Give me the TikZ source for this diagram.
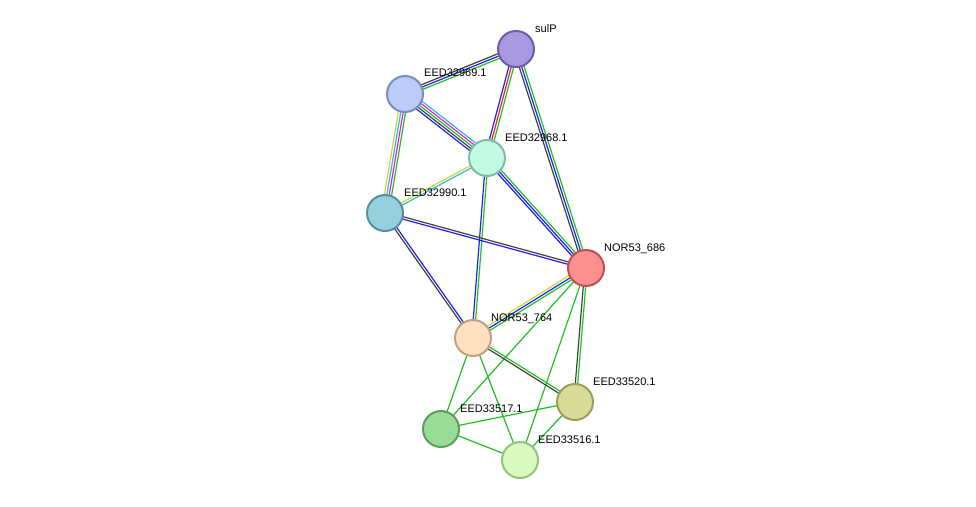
\documentclass[tikz,border=0pt]{standalone}
\usepackage{fontspec}
\setmainfont{Liberation Sans}
\usetikzlibrary{calc}

\definecolor{eblack}{HTML}{404040}
\definecolor{eblue}{HTML}{2020F0}
\definecolor{egreen}{HTML}{20C020}
\definecolor{ered}{HTML}{F02020}
\definecolor{emagenta}{HTML}{E020E0}
\definecolor{ecyan}{HTML}{30B8E0}
\definecolor{eyellow}{HTML}{C8D830}

\tikzset{
  prot/.style={circle, minimum size=36pt, inner sep=0, line width=2pt},
  lab/.style={anchor=base west, inner sep=0, font=\fontsize{11}{13}\selectfont},
  edge/.style={line width=1.2pt},
}

% #1,#2 node names, #3 list of colours
\newcommand{\multiedge}[3]{%
  \foreach \c [count=\i] in {#3} {\xdef\nedges{\i}}%
  \foreach \c [count=\i] in {#3} {%
    \pgfmathsetmacro{\off}{(\i-(\nedges+1)/2)*2.4}%
    \draw[edge, draw=\c] ($(#1)!\off pt!90:(#2)$) -- ($(#2)!\off pt!-90:(#1)$);
  }%
}

\begin{document}
\begin{tikzpicture}[x=1pt, y=-1pt]

\useasboundingbox[fill=white] (0,0) rectangle (976,506);

\coordinate (sulP) at (516,49);
\coordinate (e969) at (405,94);
\coordinate (e968) at (487,158);
\coordinate (e990) at (385,213);
\coordinate (n686) at (586,268);
\coordinate (n764) at (473,338);
\coordinate (e520) at (575,402);
\coordinate (e517) at (441,429);
\coordinate (e516) at (520,460);

\multiedge{sulP}{e969}{eblack,eblue,egreen}
\multiedge{sulP}{e968}{eblue,ered,egreen}
\multiedge{sulP}{n686}{eblack,eblue,egreen}
\multiedge{e969}{e968}{eblue,eblack,egreen,emagenta,ecyan}
\multiedge{e969}{e990}{eyellow,ecyan,emagenta,egreen}
\multiedge{e968}{e990}{eyellow,ecyan}
\multiedge{e968}{n686}{eblue,eblue,egreen}
\multiedge{e968}{n764}{eblue,egreen}
\multiedge{e990}{n686}{eblue,eblack}
\multiedge{e990}{n764}{eblack,eblue}
\multiedge{n686}{n764}{eyellow,eblue,egreen}
\multiedge{n686}{e520}{eblack,egreen}
\multiedge{n686}{e517}{egreen}
\multiedge{n686}{e516}{egreen}
\multiedge{n764}{e520}{eblack,egreen}
\multiedge{n764}{e517}{egreen}
\multiedge{n764}{e516}{egreen}
\multiedge{e517}{e520}{egreen}
\multiedge{e517}{e516}{egreen}
\multiedge{e520}{e516}{egreen}

\node[prot, fill={rgb,255:red,168;green,152;blue,224}, draw={rgb,255:red,111;green,91;blue,168}] (sulPn) at (sulP) {};
\node[prot, fill={rgb,255:red,188;green,203;blue,248}, draw={rgb,255:red,122;green,141;blue,192}] (e969n) at (e969) {};
\node[prot, fill={rgb,255:red,195;green,250;blue,228}, draw={rgb,255:red,128;green,187;blue,168}] (e968n) at (e968) {};
\node[prot, fill={rgb,255:red,150;green,208;blue,222}, draw={rgb,255:red,90;green,142;blue,156}] (e990n) at (e990) {};
\node[prot, fill={rgb,255:red,250;green,144;blue,144}, draw={rgb,255:red,192;green,80;blue,80}] (n686n) at (n686) {};
\node[prot, fill={rgb,255:red,255;green,224;blue,192}, draw={rgb,255:red,192;green,160;blue,128}] (n764n) at (n764) {};
\node[prot, fill={rgb,255:red,216;green,220;blue,152}, draw={rgb,255:red,154;green,158;blue,88}] (e520n) at (e520) {};
\node[prot, fill={rgb,255:red,152;green,220;blue,152}, draw={rgb,255:red,90;green,158;blue,90}] (e517n) at (e517) {};
\node[prot, fill={rgb,255:red,216;green,250;blue,192}, draw={rgb,255:red,152;green,192;blue,128}] (e516n) at (e516) {};

\node[lab] (sulPl) at (535,32) {sulP};
\node[lab] (e969l) at (424,76) {EED32969.1};
\node[lab] (e968l) at (505,141) {EED32968.1};
\node[lab] (e990l) at (404,196) {EED32990.1};
\node[lab] (n686l) at (604,251) {NOR53\_686};
\node[lab] (n764l) at (491,321) {NOR53\_764};
\node[lab] (e520l) at (593,385) {EED33520.1};
\node[lab] (e517l) at (460,412) {EED33517.1};
\node[lab] (e516l) at (538,443) {EED33516.1};

\end{tikzpicture}
\end{document}
